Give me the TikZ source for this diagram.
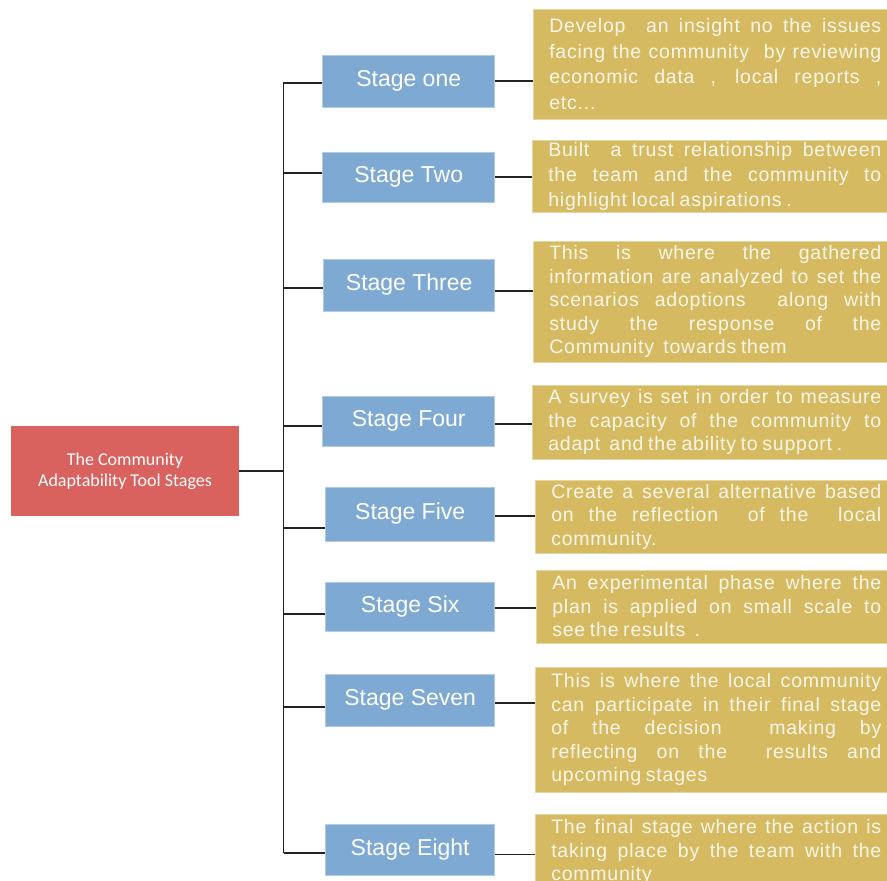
\documentclass[tikz,border=0pt]{standalone}
\usepackage{fontspec}
\newfontfamily\stagefont{Liberation Sans}
\newfontfamily\notefam[LetterSpace=4, WordSpace=0.75]{Liberation Sans}
\newfontfamily\rootfont{Carlito}
\definecolor{rootred}{HTML}{D9625F}
\definecolor{stageblue}{HTML}{7DA9D2}
\definecolor{notegold}{HTML}{D6BA62}
\definecolor{notetext}{HTML}{FBF6E8}
\definecolor{linkgray}{HTML}{222222}
\newcommand\notefont[1]{\notefam\fontsize{19.5}{#1}\selectfont\tolerance=10000\relax\hyphenpenalty=10000\relax}
\tikzset{
    root/.style={fill=rootred, text=white, font=\rootfont\fontsize{18}{21}\selectfont,
        align=center, minimum width=228pt, minimum height=90pt, inner sep=0pt},
    stagebox/.style={fill=stageblue, draw=stageblue!60!white, line width=0.6pt, text=white,
        font=\stagefont\fontsize{23}{27}\selectfont, anchor=east,
        minimum width=172pt, minimum height=51pt, inner sep=0pt},
    notebox/.style={fill=notegold, draw=notegold!60!white, line width=0.6pt, text=notetext,
        font=\notefont{23.5pt}, align=justify, anchor=west, inner xsep=16pt, inner ysep=0pt},
    link/.style={draw=linkgray, line width=1.3pt}
}
\begin{document}
\begin{tikzpicture}[x=1pt, y=-1pt]
    \useasboundingbox (0,0) rectangle (887,881);
    % root
    \node[root] (root) at (125,471) {The Community\\Adaptability Tool Stages};
    % stages
    \node[stagebox, minimum height=52pt] (s1) at (495,81) {Stage one};
    \node[stagebox, minimum height=50pt] (s2) at (495,177) {Stage Two};
    \node[stagebox, minimum width=171pt, minimum height=52pt] (s3) at (495,285) {Stage Three};
    \node[stagebox, minimum height=50pt] (s4) at (495,421) {Stage Four};
    \node[stagebox, minimum width=169pt, minimum height=54pt] (s5) at (495,514) {Stage Five};
    \node[stagebox, minimum width=169pt, minimum height=49pt] (s6) at (495,606.5) {Stage Six};
    \node[stagebox, minimum width=169pt, minimum height=52pt] (s7) at (495,700) {Stage Seven};
    \node[stagebox, minimum width=169pt] (s8) at (495,849.5) {Stage Eight};
    % notes
    \node[notebox, font=\notefont{25.5pt}, text width=332pt, minimum height=110pt] (g1) at (533,64)
        {Develop\ \ an insight no the issues\linebreak facing the community\ \ by reviewing\linebreak economic data , local reports ,\linebreak etc...};
    \node[notebox, font=\notefont{25pt}, text width=333pt, minimum height=72pt] (g2) at (532,176)
        {Built\ \ a trust relationship between\linebreak the team and the community to\linebreak highlight local aspirations .};
    \node[notebox, text width=332pt, minimum height=121pt] (g3) at (533,301.5)
        {This is where the gathered\linebreak information are analyzed to set the\linebreak scenarios adoptions\ \ along with\linebreak study the response of the\linebreak Community\ \ towards them};
    \node[notebox, text width=333pt, minimum height=74pt] (g4) at (532,422)
        {A survey is set in order to measure\linebreak the capacity of the community to\linebreak adapt\ \ and the ability to support .};
    \node[notebox, text width=330pt, minimum height=73pt] (g5) at (535,516.5)
        {Create a several alternative based\linebreak on the reflection\ \ of the\ \ local\linebreak community.};
    \node[notebox, text width=329pt, minimum height=73pt] (g6) at (536,606.5)
        {An experimental phase where the\linebreak plan is applied on small scale to\linebreak see the results\ \ .};
    \node[notebox, text width=330pt, minimum height=125pt] (g7) at (535,729.5)
        {This is where the local community\linebreak can participate in their final stage\linebreak of the decision\ \ making by\linebreak reflecting on the\ \ results and\linebreak upcoming stages};
    \node[notebox, text width=330pt, minimum height=76pt] (g8) at (535,852)
        {The final stage where the action is\linebreak taking place by the team with the\linebreak community};
    % trunk
    \coordinate (ttop) at (283.5,82);
    \coordinate (tbot) at (283.5,853);
    \draw[link] (ttop) -- (tbot);
    \draw[link] (root.east) -- (root.east -| ttop);
    \foreach \s/\a/\b in {1/-2pt/0pt, 2/4pt/0pt, 3/-3pt/-6pt, 4/-5pt/-3pt,
                          5/-14pt/-2pt, 6/-7.5pt/-1.5pt, 7/-7pt/-3pt, 8/-3.5pt/-5pt}{
        \draw[link] ([yshift=\a]s\s.west -| ttop) -- ([yshift=\a]s\s.west);
        \draw[link] ([yshift=\b]s\s.east) -- ([yshift=\b]s\s.east -| g\s.west);
    }
\end{tikzpicture}
\end{document}
